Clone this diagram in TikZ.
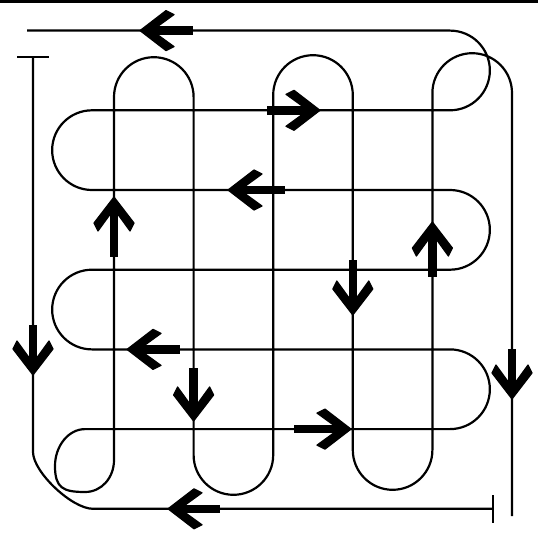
\documentclass[tikz,border=0pt]{standalone}
\usetikzlibrary{calc}
\begin{document}
\begin{tikzpicture}[x=1pt,y=-1pt,
  strand/.style={line width=2.2pt, line join=round},
  arrL/.pic={\filldraw[line width=1.2pt, line join=round] (0,0) -- (26,-20) -- (34,-16) -- (14,-1.5) -- (14,1.5) -- (34,16) -- (26,20) -- cycle;
             \draw[line width=8.5pt] (10,0) -- (#1,0);},
  arrR/.pic={\filldraw[line width=1.2pt, line join=round] (0,0) -- (-26,-20) -- (-34,-16) -- (-14,-1.5) -- (-14,1.5) -- (-34,16) -- (-26,20) -- cycle;
             \draw[line width=8.5pt] (-10,0) -- (-#1,0);},
  arrU/.pic={\filldraw[line width=1.2pt, line join=round] (0,0) -- (-20,26) -- (-16,34) -- (-1.5,14) -- (1.5,14) -- (16,34) -- (20,26) -- cycle;
             \draw[line width=8.5pt] (0,10) -- (0,#1);},
  arrD/.pic={\filldraw[line width=1.2pt, line join=round] (0,0) -- (-20,-26) -- (-16,-34) -- (-1.5,-14) -- (1.5,-14) -- (16,-34) -- (20,-26) -- cycle;
             \draw[line width=8.5pt] (0,-10) -- (0,-#1);},
]
\useasboundingbox (0,0) rectangle (538,548);
\fill[white] (0,0) rectangle (538,548);
% top rule
\draw[line width=3pt] (0,1.5) -- (538,1.5);

% named anchor points
\coordinate (Ttop) at (33,57);
\coordinate (Bend) at (493,508.8);
\coordinate (TopStart) at (27,30.6);
\coordinate (Vend) at (512,516);

% left line with T, corner, bottom line with T
\draw[strand] (Ttop) -- (33,452) .. controls (33,472) and (72,508.8) .. (93,508.8) -- (Bend);
\draw[strand] (17,57) -- (49,57);
\draw[strand] (493,495) -- (493,523);

% horizontal serpentine, bottom-left curl, vertical serpentine
\draw[strand] (TopStart) -- (450,30.6)
  arc[start angle=270, end angle=450, radius=39.85] -- (92,110.3)
  arc[start angle=270, end angle=90, radius=39.85] -- (450,190)
  arc[start angle=270, end angle=450, radius=39.85] -- (92,269.7)
  arc[start angle=270, end angle=90, radius=39.85] -- (450,349.4)
  arc[start angle=270, end angle=450, radius=39.85] -- (85,429.1)
  .. controls (68.4,429.1) and (55,446) .. (55,466)
  .. controls (55,488) and (63,492) .. (85,492)
  .. controls (101.6,492) and (114,477.7) .. (114,460)
  -- (114,97)
  arc[start angle=180, end angle=360, radius=39.8] -- (193.6,455)
  arc[start angle=180, end angle=0, radius=39.8] -- (273.2,95)
  arc[start angle=180, end angle=360, radius=39.8] -- (352.8,450)
  arc[start angle=180, end angle=0, radius=39.8] -- (432.4,93)
  arc[start angle=180, end angle=360, radius=39.8] -- (Vend);

% arrows
\pic at (140,30.6) {arrL=53};
\pic at (320,110.3) {arrR=53};
\pic at (228,190) {arrL=57};
\pic at (114,197) {arrU=60};
\pic at (432.4,222) {arrU=55};
\pic at (352.8,315) {arrD=55};
\pic at (33,375) {arrD=50};
\pic at (127,349.4) {arrL=53};
\pic at (193.6,421) {arrD=53};
\pic at (351,429.1) {arrR=57};
\pic at (512,399) {arrD=50};
\pic at (168,508.8) {arrL=52};
\end{tikzpicture}
\end{document}
